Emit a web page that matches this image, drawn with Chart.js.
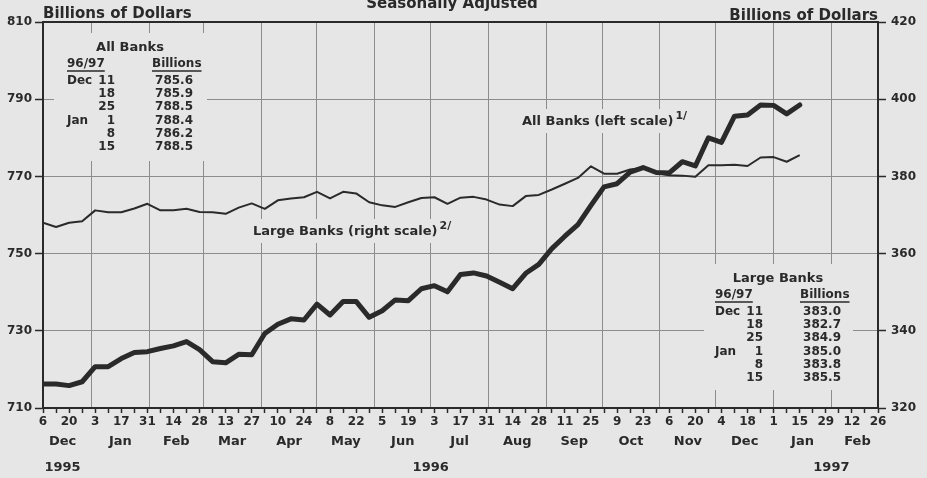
<!DOCTYPE html>
<html>
<head>
<meta charset="utf-8">
<script src="https://cdn.jsdelivr.net/npm/chart.js@4.4.0/dist/chart.umd.min.js"></script>
<style>
  body { margin: 0; background: #e6e6e6; }
  canvas { display: block; }
</style>
</head>
<body>
<canvas id="chart" width="927" height="478"></canvas>
<script>
// weekly tick labels, every second Wednesday from Dec 6 1995 to Feb 26 1997
const weekLabels = ['6','20','3','17','31','14','28','13','27','10','24','8','22','5','19','3','17',
  '31','14','28','11','25','9','23','6','20','4','18','1','15','29','12','26'];
const monthLabels = ['Dec','Jan','Feb','Mar','Apr','May','Jun','Jul','Aug','Sep','Oct','Nov','Dec','Jan','Feb'];
const yearLabels = ['1995', '1996', '1997'];

// All Banks, left scale, billions, weekly from Dec 6 1995
const allBanks = [716.2, 716.2, 715.8, 716.8, 720.7, 720.7, 722.8, 724.4, 724.6, 725.4,
  726.1, 727.2, 725.1, 722.0, 721.7, 723.9, 723.8, 729.3, 731.7, 733.1,
  732.8, 736.9, 734.1, 737.6, 737.6, 733.5, 735.2, 738.0, 737.8, 740.9,
  741.7, 740.1, 744.6, 745.0, 744.2, 742.6, 740.9, 744.9, 747.2, 751.3,
  754.5, 757.5, 762.5, 767.3, 768.1, 771.1, 772.3, 771.0, 770.9, 773.8,
  772.7, 780.0, 778.8, 785.6, 785.9, 788.5, 788.4, 786.2, 788.5];

// Large Banks, right scale, billions
const largeBanks = [368.0, 366.9, 368.0, 368.4, 371.2, 370.7, 370.7, 371.7, 372.9, 371.2,
  371.2, 371.6, 370.8, 370.7, 370.3, 371.9, 373.0, 371.6, 373.8, 374.3,
  374.6, 376.0, 374.3, 376.0, 375.6, 373.3, 372.5, 372.1, 373.3, 374.4,
  374.6, 372.9, 374.5, 374.7, 374.0, 372.7, 372.3, 374.9, 375.2, 376.6,
  378.1, 379.6, 382.6, 380.7, 380.7, 381.8, 382.2, 380.9, 380.3, 380.2,
  379.9, 382.9, 382.9, 383.0, 382.7, 384.9, 385.0, 383.8, 385.5];

const tableDates = [['Dec', '11'], ['', '18'], ['', '25'], ['Jan', '1'], ['', '8'], ['', '15']];

const ink = '#2a2a2a';
const gridGrey = '#8c8c8c';
const paperColor = '#e6e6e6';
const font = 'DejaVu Sans';

// weeks between Dec 6 1995 and the first of each month shown
const start = Date.UTC(1995, 11, 6);
const monthStarts = [];
for (let k = 0; k <= monthLabels.length; k++) {
  monthStarts.push((Date.UTC(1995, 11 + k, 1) - start) / (7 * 864e5));
}

function drawTable(ctx, x0, y0, title, values) {
  ctx.fillStyle = ink;
  ctx.strokeStyle = ink;
  ctx.textBaseline = 'middle';
  ctx.font = 'bold 13px ' + font;
  ctx.textAlign = 'center';
  ctx.fillText(title, x0 + 63, y0 - 16);
  ctx.font = 'bold 12px ' + font;
  ctx.textAlign = 'left';
  ctx.fillText('96/97', x0, y0);
  ctx.fillText('Billions', x0 + 85, y0);
  ctx.lineWidth = 1.5;
  ctx.beginPath();
  ctx.moveTo(x0, y0 + 7); ctx.lineTo(x0 + ctx.measureText('96/97').width, y0 + 7);
  ctx.moveTo(x0 + 85, y0 + 7); ctx.lineTo(x0 + 85 + ctx.measureText('Billions').width, y0 + 7);
  ctx.stroke();
  tableDates.forEach((d, r) => {
    const y = y0 + 16.7 + r * 13.3;
    ctx.textAlign = 'left';
    ctx.fillText(d[0], x0, y);
    ctx.textAlign = 'right';
    ctx.fillText(d[1], x0 + 48, y);
    ctx.fillText(values[r].toFixed(1), x0 + 126, y);
  });
}

function labelWithNote(ctx, text, note, x, y) {
  ctx.fillStyle = ink;
  ctx.textBaseline = 'middle';
  ctx.textAlign = 'left';
  ctx.font = 'bold 13px ' + font;
  ctx.fillText(text, x, y);
  const w = ctx.measureText(text).width;
  ctx.font = 'bold 11px ' + font;
  ctx.fillText(note, x + w + 2, y - 6);
}

const paper = {
  id: 'paper',
  beforeDraw(chart) {
    const ctx = chart.ctx;
    ctx.save();
    ctx.fillStyle = paperColor;
    ctx.fillRect(0, 0, chart.width, chart.height);
    ctx.restore();
  },
  beforeDatasetsDraw(chart) {
    const { ctx, chartArea: a } = chart;
    ctx.save();
    // text boxes blank out the grid behind them
    ctx.fillStyle = paperColor;
    [[54, 33, 153, 128], [704, 264, 149, 126], [518, 109, 186, 24], [249, 219, 222, 24]]
      .forEach(b => ctx.fillRect(b[0], b[1], b[2], b[3]));
    ctx.strokeStyle = ink;
    ctx.lineWidth = 2;
    ctx.beginPath();
    ctx.moveTo(a.left - 1, a.top);
    ctx.lineTo(a.right + 1, a.top);
    ctx.stroke();

    drawTable(ctx, 67, 64, 'All Banks', allBanks.slice(-6));
    drawTable(ctx, 715, 295, 'Large Banks', largeBanks.slice(-6));
    labelWithNote(ctx, 'All Banks (left scale)', '1/', 522, 122);
    labelWithNote(ctx, 'Large Banks (right scale)', '2/', 253, 232);

    ctx.fillStyle = ink;
    ctx.font = 'bold 15px ' + font;
    ctx.textBaseline = 'alphabetic';
    ctx.textAlign = 'left';
    ctx.fillText('Billions of Dollars', a.left, 18);
    ctx.textAlign = 'right';
    ctx.fillText('Billions of Dollars', a.right, 20);
    ctx.textAlign = 'center';
    ctx.fillText('Seasonally Adjusted', 452, 8);
    ctx.restore();
  },
  afterDraw(chart) {
    const { ctx } = chart;
    const x = chart.scales.x;
    ctx.save();
    ctx.fillStyle = ink;
    ctx.font = 'bold 13px ' + font;
    ctx.textAlign = 'center';
    ctx.textBaseline = 'middle';
    monthLabels.forEach((m, k) => {
      const mid = (monthStarts[k] + monthStarts[k + 1]) / 2;
      ctx.fillText(m, x.getPixelForValue(Math.min(mid, 63)), 442);
    });
    const yearPos = [(monthStarts[0] + monthStarts[1]) / 2, monthStarts[7], monthStarts[14]];
    yearLabels.forEach((t, k) => ctx.fillText(t, x.getPixelForValue(yearPos[k]), 468));
    ctx.restore();
  }
};

new Chart(document.getElementById('chart'), {
  type: 'line',
  data: {
    datasets: [{
      label: 'All Banks (left scale)',
      data: allBanks.map((v, i) => ({ x: i, y: v })),
      yAxisID: 'y',
      borderColor: ink,
      borderWidth: 5,
      borderJoinStyle: 'round',
      borderCapStyle: 'round',
      pointRadius: 0,
      tension: 0
    }, {
      label: 'Large Banks (right scale)',
      data: largeBanks.map((v, i) => ({ x: i, y: v })),
      yAxisID: 'y2',
      borderColor: ink,
      borderWidth: 2,
      borderJoinStyle: 'round',
      pointRadius: 0,
      tension: 0
    }]
  },
  options: {
    responsive: false,
    animation: false,
    layout: { padding: { top: 22, left: 0, right: 0, bottom: 0 } },
    plugins: { legend: { display: false }, tooltip: { enabled: false } },
    scales: {
      x: {
        type: 'linear', min: 0, max: 64,
        afterFit: s => { s.height = 70; },
        ticks: {
          stepSize: 1, autoSkip: false, maxRotation: 0, padding: 2, color: ink,
          font: { family: font, size: 12, weight: 'bold' },
          callback: v => (v % 2 === 0 ? weekLabels[v / 2] : '')
        },
        grid: { drawOnChartArea: false, tickLength: 5, tickColor: ink, tickWidth: 1.5 },
        border: { color: ink, width: 2 }
      },
      months: {
        type: 'linear', min: 0, max: 64, position: 'bottom',
        afterFit: s => { s.height = 0; },
        afterBuildTicks: s => {
          s.ticks = monthStarts.filter(v => v > 0 && v < 64).map(v => ({ value: v }));
        },
        ticks: { display: false },
        grid: { color: gridGrey, lineWidth: 1, drawTicks: false },
        border: { display: false }
      },
      y: {
        position: 'left', min: 710, max: 810,
        afterFit: s => { s.width = 43; },
        ticks: { stepSize: 20, padding: 3, color: ink, font: { family: font, size: 12, weight: 'bold' } },
        grid: { color: gridGrey, lineWidth: 1, tickLength: 8, tickColor: ink, tickWidth: 1.5 },
        border: { color: ink, width: 2 }
      },
      y2: {
        position: 'right', min: 320, max: 420,
        afterFit: s => { s.width = 49; },
        ticks: { stepSize: 20, padding: 5, color: ink, font: { family: font, size: 12, weight: 'bold' } },
        grid: { drawOnChartArea: false, tickLength: 8, tickColor: ink, tickWidth: 1.5 },
        border: { color: ink, width: 2 }
      }
    }
  },
  plugins: [paper]
});
</script>
</body>
</html>
